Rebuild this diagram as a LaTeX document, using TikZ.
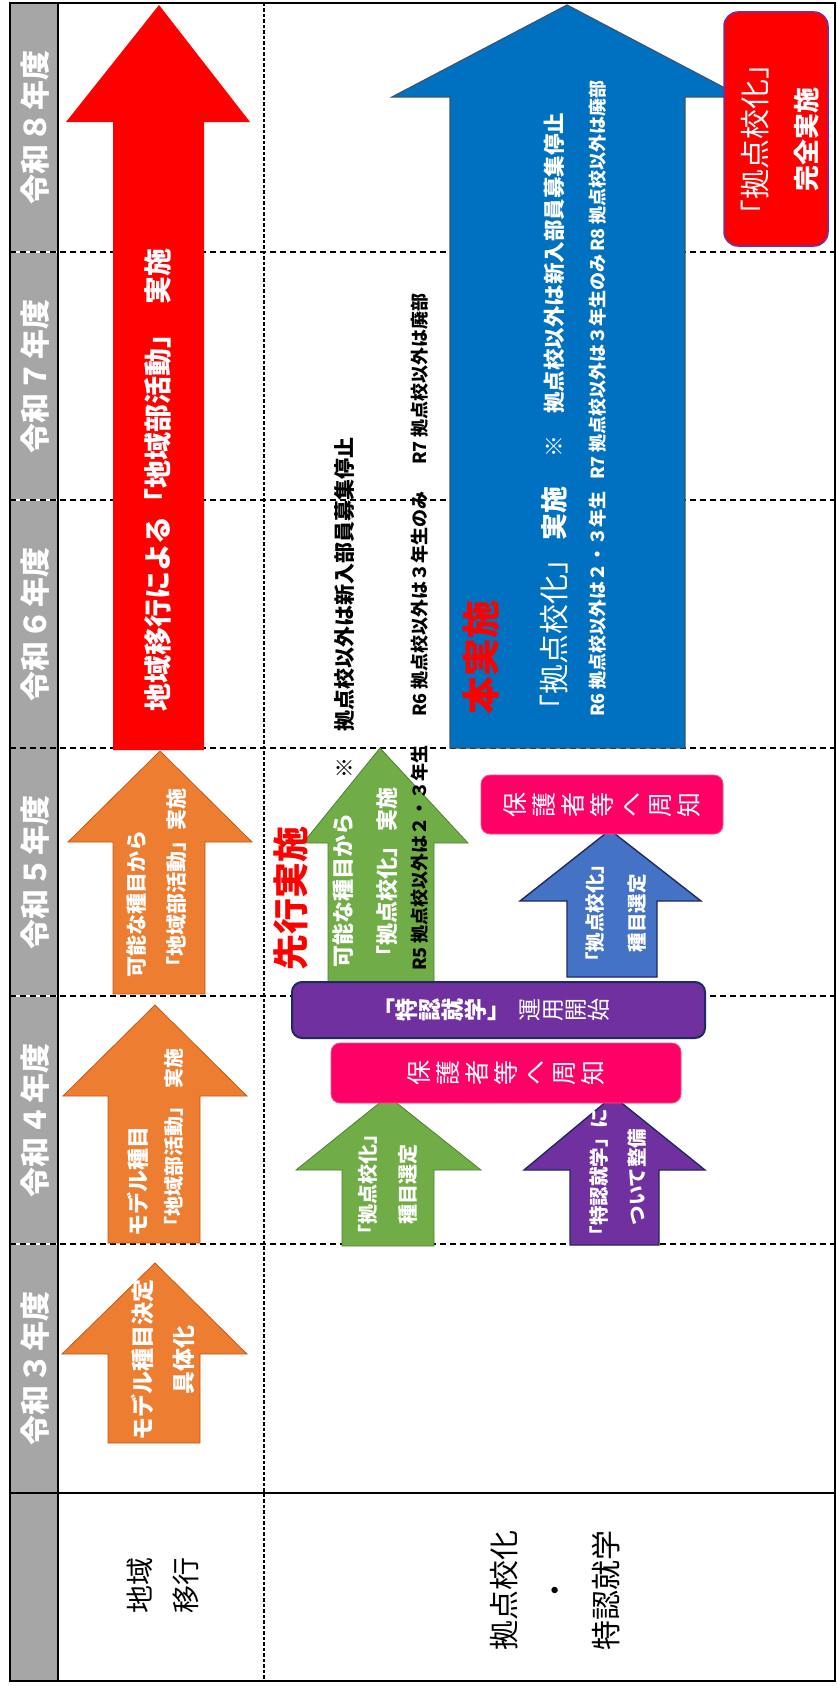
\documentclass[tikz,border=0pt]{standalone}
\usepackage{fontspec}
\usepackage{graphicx}
\setmainfont{Noto Sans CJK JP}
\newcommand\fsz[2]{\fontsize{#1}{#2}\selectfont}
\newcommand\vt[1]{\rotatebox[origin=c]{90}{\makebox[1em]{#1}\rule[-0.12em]{0pt}{1em}}}
\newcommand\vts[1]{\vt{#1}\hspace{4pt}}
\newcommand\uparr[9]{\path[#1] (#2,#3) -- (#5,#6) -- (#8,#6) -- (#8,#9) -- (#7,#9) -- (#7,#6) -- (#4,#6) -- cycle;}
\definecolor{hdrgray}{HTML}{A6A6A6}
\definecolor{orng}{HTML}{ED7D31}
\definecolor{orngd}{HTML}{C55A11}
\definecolor{grn}{HTML}{70AD47}
\definecolor{grnd}{HTML}{507E32}
\definecolor{bluebig}{HTML}{0070C0}
\definecolor{bluebigd}{HTML}{3A5573}
\definecolor{bluesm}{HTML}{4472C4}
\definecolor{navy}{HTML}{1F2A60}
\definecolor{purp}{HTML}{7030A0}
\definecolor{rosepink}{HTML}{FF0066}
\definecolor{rosepinkd}{HTML}{FF4D88}
\tikzset{
 gridline/.style={line width=2pt, dash pattern=on 6pt off 4pt},
 gridunder/.style={white, line width=2pt},
 dotline/.style={line width=2.6pt, dash pattern=on 3.5pt off 2pt},
 solidline/.style={line width=2.2pt},
 orangearr/.style={fill=orng, draw=orngd, line width=0.8pt},
 greenarr/.style={fill=grn, draw=grnd, line width=0.8pt},
 bluesmarr/.style={fill=bluesm, draw=navy, line width=1.4pt},
 purparr/.style={fill=purp, draw=navy, line width=1.4pt},
 bigblue/.style={fill=bluebig, draw=bluebigd, line width=1.2pt},
 redarr/.style={fill=red},
 rtxt/.style={rotate=90, inner sep=0pt, text=white},
 btxt/.style={rotate=90, inner sep=0pt, text=black},
 hdr/.style={rotate=90, inner sep=0pt, text=white, font=\bfseries\fsz{30}{36}},
 rowlbl/.style={rotate=90, inner sep=0pt, align=center, text=black},
 pinkbox/.style={fill=rosepink, draw=rosepinkd, line width=0.8pt, rounded corners=9pt, inner sep=0pt, text=white},
 purpbox/.style={fill=purp, draw=navy, line width=2pt, rounded corners=10pt, inner sep=0pt},
 redbox/.style={fill=red, draw=purp, line width=1.5pt, rounded corners=14pt, inner sep=0pt},
}
\begin{document}
\begin{tikzpicture}[x=1pt,y=-1pt]
\useasboundingbox (0,0) rectangle (837,1686);
\fill[white] (0,0) rectangle (837,1686);
\fill[hdrgray] (10,3) rectangle (58,1681);
% grid
\foreach \yy in {252,500,996,1244} { \draw[gridunder] (10,\yy) -- (58,\yy); }
\foreach \yy in {252,500,748,996,1244} { \draw[gridline] (10,\yy) -- (835,\yy); }
\draw[dotline] (264,3) -- (264,1681);
% 地域移行 arrows
\uparr{redarr}{159}{5}{66}{250}{122}{113}{204}{750}
\uparr{orangearr}{160}{751}{68}{252}{842}{113}{205}{994}
\uparr{orangearr}{155}{1005}{63}{247}{1096}{108}{200}{1243}
\uparr{orangearr}{155}{1263}{62}{247}{1354}{108}{200}{1443}
% 拠点校化 arrows
\path[bigblue] (567,5) -- (742,97) -- (685,97) -- (685,748) -- (450,748) -- (450,97) -- (392,97) -- cycle;
\uparr{greenarr}{380}{748}{303}{468}{843}{328}{434}{985}
\uparr{bluesmarr}{610}{830}{520}{701}{901}{567}{657}{977}
\uparr{greenarr}{388}{1096}{296}{481}{1170}{342}{434}{1246}
\uparr{purparr}{613}{1096}{524}{705}{1170}{570}{659}{1245}
% boxes
\node[purpbox, minimum width=413pt, minimum height=56pt] (purpbox) at (498.5,1010) {};
\node[pinkbox, minimum width=242pt, minimum height=59pt, font=\fsz{25}{30}] (pink1) at (602,804.5)
 {\vts{保}\vts{護}\vts{者}\vts{等}\vts{へ}\vts{周}\vt{知}};
\node[pinkbox, minimum width=350pt, minimum height=60pt, font=\fsz{25}{30}] (pink2) at (506,1073)
 {\vts{保}\vts{護}\vts{者}\vts{等}\vts{へ}\vts{周}\vt{知}};
\node[redbox, minimum width=104pt, minimum height=234pt] (redbox) at (776,129) {};
% header labels
\node[hdr] (h8) at (35,127.5) {令和\hspace{2pt}８\hspace{2pt}年度};
\node[hdr] (h7) at (35,376) {令和\hspace{2pt}７\hspace{2pt}年度};
\node[hdr] (h6) at (35,624) {令和\hspace{2pt}６\hspace{2pt}年度};
\node[hdr] (h5) at (35,872) {令和\hspace{2pt}５\hspace{2pt}年度};
\node[hdr] (h4) at (35,1120) {令和\hspace{2pt}４\hspace{2pt}年度};
\node[hdr] (h3) at (35,1368.5) {令和\hspace{2pt}３\hspace{2pt}年度};
% row labels
\node[rowlbl, font=\fsz{28}{46}] (rl1) at (163,1585) {地域\\移行};
\node[rowlbl, font=\fsz{30}{51}] (rl2) at (555,1590) {拠点校化\\・\\特認就学};
% arrow texts (地域)
\node[rtxt, font=\bfseries\fsz{28}{34}] (redtxt) at (158,480) {地域移行による「地域部活動」\hspace{16pt}実施};
\node[rtxt, anchor=west, align=left, font=\bfseries\fsz{21}{40}] (o5t) at (157,978) {可能な種目から\\「地域部活動」実施};
\node[rtxt, anchor=west, align=left, font=\bfseries\fsz{20}{35}] (o4t) at (155.5,1237)
 {{\fsz{22}{35}モデル種目}\\{\fsz{20}{35}「地域部活動」\hspace{8pt}実施}};
\node[rtxt, align=center, font=\bfseries\fsz{23}{41}] (o3t) at (163,1360) {モデル種目決定\\具体化};
% big blue texts
\node[rotate=90, anchor=west, inner sep=0pt, text=red, font=\bfseries\fsz{38}{42}] (honjisshi) at (481,715) {本実施};
\node[rtxt, anchor=west, font=\fsz{30}{34}] (bk1) at (554,725) {「拠点校化」};
\node[rtxt, anchor=west, font=\bfseries\fsz{27}{30}] (bk2) at (554,541) {実施};
\node[rtxt, font=\fsz{22}{26}] (bk3) at (554,446) {※};
\node[rtxt, anchor=west, font=\bfseries\fsz{21.5}{26}] (bk4) at (554,414) {拠点校以外は新入部員募集停止};
\node[rtxt, anchor=west, font=\bfseries\fsz{18}{22}] (bn6) at (598,717) {R6\hspace{4pt}拠点校以外は２・３年生};
\node[rtxt, anchor=west, font=\bfseries\fsz{18}{22}] (bn7) at (598,480) {R7\hspace{4pt}拠点校以外は３年生のみ};
\node[rtxt, anchor=west, font=\bfseries\fsz{18}{22}] (bn8) at (598,252) {R8\hspace{4pt}拠点校以外は廃部};
% black notes
\node[btxt, font=\bfseries\fsz{21}{24}] (ks0) at (345,768) {※};
\node[btxt, anchor=west, font=\bfseries\fsz{21}{24}] (ks1) at (345,732) {拠点校以外は新入部員募集停止};
\node[btxt, anchor=west, font=\bfseries\fsz{18}{22}] (kr5) at (420,971) {R5\hspace{4pt}拠点校以外は２・３年生};
\node[btxt, anchor=west, font=\bfseries\fsz{18}{22}] (kr6) at (420,717) {R6\hspace{4pt}拠点校以外は３年生のみ};
\node[btxt, anchor=west, font=\bfseries\fsz{18}{22}] (kr7) at (420,465) {R7\hspace{4pt}拠点校以外は廃部};
\node[rotate=90, anchor=west, inner sep=0pt, text=red, font=\bfseries\fsz{36}{40}] (senko) at (291,971) {先行実施};
% small arrow texts
\node[rtxt, anchor=west, align=left, font=\bfseries\fsz{22}{44}] (g5t) at (365,968) {可能な種目から\\「拠点校化」\hspace{4pt}実施};
\node[rtxt, align=center, font=\bfseries\fsz{19.5}{42}] (b5t) at (616,913) {「拠点校化」\\種目選定};
\node[rtxt, align=center, font=\bfseries\fsz{20}{40}] (g4t) at (388,1184) {「拠点校化」\\種目選定};
\node[rtxt, align=center, font=\bfseries\fsz{19.5}{38}] (p4t) at (618,1177) {「特認就学」に\\ついて整備};
\node[inner sep=0pt, text=white, font=\fsz{23}{28}] (pbt) at (491,1010)
 {\textbf{「\vt{特}\vt{認}\vt{就}\vt{学}」}\hspace{8pt}\vt{運}\vt{用}\vt{開}\vt{始}};
\node[rtxt, align=center, font=\fsz{28}{50}] (rbt) at (780,139) {{\fsz{30}{50}「拠点校化」}\\{\bfseries\fsz{26}{50}完全実施}};
% frame
\draw[solidline] (58,3) -- (58,1681);
\draw[solidline] (10,1493) -- (835,1493);
\draw[solidline] (10,3) rectangle (835,1681);
\end{tikzpicture}
\end{document}
